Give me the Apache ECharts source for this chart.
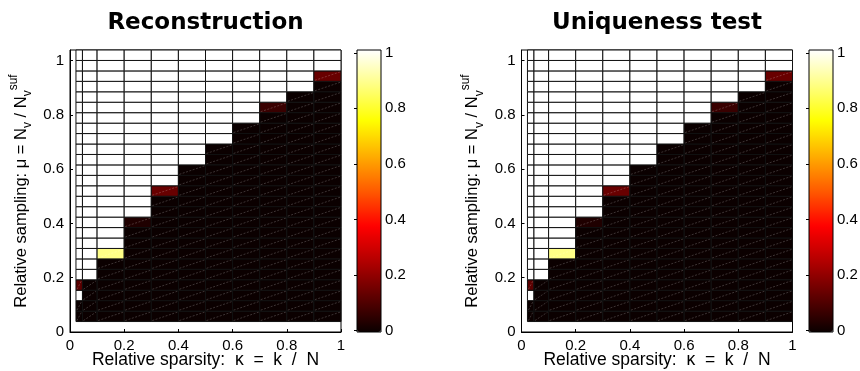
<!DOCTYPE html>
<html><head><meta charset="utf-8">
<script src="https://cdn.jsdelivr.net/npm/echarts@6/dist/echarts.min.js"></script>
<style>html,body{margin:0;padding:0;background:#fff}#c{width:860px;height:371px}</style>
</head><body><div id="c"></div>
<script>
// ---- data ----
const panelTitles = ['Reconstruction', 'Uniqueness test'];
const xAxisTitle = 'Relative sparsity:  κ  =  k  /  N';
const xTicks = [0, 0.2, 0.4, 0.6, 0.8, 1];
const yTicks = [0, 0.2, 0.4, 0.6, 0.8, 1];
const cbTicks = [0, 0.2, 0.4, 0.6, 0.8, 1];
// cell edges (relative sparsity)
const kappaEdges = [0.022, 0.046, 0.1, 0.2, 0.3, 0.4, 0.5, 0.6, 0.7, 0.8, 0.9, 1.0];
// cell edges (relative sampling)
const muEdges = [0.0385, 0.0769, 0.1154, 0.1538, 0.1923, 0.2308, 0.2692, 0.3077, 0.3462,
  0.3846, 0.4231, 0.4615, 0.5, 0.5385, 0.5769, 0.6154, 0.6538, 0.6923, 0.7308, 0.7692,
  0.8077, 0.8462, 0.8846, 0.9231, 0.9615, 1.0, 1.0385];
// rows listed from bottom (first) to top (last), 11 columns each
const reconstruction = [
  [0,0,0,0,0,0,0,0,0,0,0],
  [0,0,0,0,0,0,0,0,0,0,0],
  [1,0,0,0,0,0,0,0,0,0,0],
  [0.12,0,0,0,0,0,0,0,0,0,0],
  [1,1,0,0,0,0,0,0,0,0,0],
  [1,1,0,0,0,0,0,0,0,0,0],
  [1,1,0.88,0,0,0,0,0,0,0,0],
  [1,1,1,0,0,0,0,0,0,0,0],
  [1,1,1,0,0,0,0,0,0,0,0],
  [1,1,1,0.03,0,0,0,0,0,0,0],
  [1,1,1,1,0,0,0,0,0,0,0],
  [1,1,1,1,0,0,0,0,0,0,0],
  [1,1,1,1,0.14,0,0,0,0,0,0],
  [1,1,1,1,1,0,0,0,0,0,0],
  [1,1,1,1,1,0,0,0,0,0,0],
  [1,1,1,1,1,1,0,0,0,0,0],
  [1,1,1,1,1,1,0,0,0,0,0],
  [1,1,1,1,1,1,1,0,0,0,0],
  [1,1,1,1,1,1,1,0,0,0,0],
  [1,1,1,1,1,1,1,1,0,0,0],
  [1,1,1,1,1,1,1,1,0.07,0,0],
  [1,1,1,1,1,1,1,1,1,0,0],
  [1,1,1,1,1,1,1,1,1,1,0],
  [1,1,1,1,1,1,1,1,1,1,0.14],
  [1,1,1,1,1,1,1,1,1,1,1],
  [1,1,1,1,1,1,1,1,1,1,1]
];
const uniqueness = [
  [0,0,0,0,0,0,0,0,0,0,0],
  [0,0,0,0,0,0,0,0,0,0,0],
  [1,0,0,0,0,0,0,0,0,0,0],
  [0.12,0,0,0,0,0,0,0,0,0,0],
  [1,1,0,0,0,0,0,0,0,0,0],
  [1,1,0,0,0,0,0,0,0,0,0],
  [1,1,0.88,0,0,0,0,0,0,0,0],
  [1,1,1,0,0,0,0,0,0,0,0],
  [1,1,1,0,0,0,0,0,0,0,0],
  [1,1,1,0.03,0,0,0,0,0,0,0],
  [1,1,1,1,0,0,0,0,0,0,0],
  [1,1,1,1,0,0,0,0,0,0,0],
  [1,1,1,1,0.14,0,0,0,0,0,0],
  [1,1,1,1,1,0,0,0,0,0,0],
  [1,1,1,1,1,0,0,0,0,0,0],
  [1,1,1,1,1,1,0,0,0,0,0],
  [1,1,1,1,1,1,0,0,0,0,0],
  [1,1,1,1,1,1,1,0,0,0,0],
  [1,1,1,1,1,1,1,0,0,0,0],
  [1,1,1,1,1,1,1,1,0,0,0],
  [1,1,1,1,1,1,1,1,0.07,0,0],
  [1,1,1,1,1,1,1,1,1,0,0],
  [1,1,1,1,1,1,1,1,1,1,0],
  [1,1,1,1,1,1,1,1,1,1,0.14],
  [1,1,1,1,1,1,1,1,1,1,1],
  [1,1,1,1,1,1,1,1,1,1,1]
];
// MATLAB 'hot' colormap sampled at 0, 1/8, ..., 1
const hotColors = ['#0b0000','#5e0000','#b20000','#ff0000','#ff5a00','#ffae00','#ffff00','#ffff82','#ffffff'];

// ---- build ----
function cells(matrix) {
  const out = [];
  for (let r = 0; r < matrix.length; r++)
    for (let c = 0; c < matrix[r].length; c++)
      out.push([kappaEdges[c], kappaEdges[c + 1], muEdges[r], muEdges[r + 1], matrix[r][c]]);
  return out;
}
const FONT = 'Liberation Sans';
const gridsX = [70, 521.5];
const cbX = [357, 809];
const TOP = 50, H = 282, W = 271, CBW = 24;

function renderCell(params, api) {
  const p0 = api.coord([api.value(0), api.value(2)]);
  const p1 = api.coord([api.value(1), api.value(3)]);
  return {
    type: 'group',
    children: [
      { type: 'rect',
        shape: { x: p0[0], y: p1[1], width: p1[0] - p0[0], height: p0[1] - p1[1] },
        style: { fill: api.visual('color'), stroke: '#111', lineWidth: 1 } },
      { type: 'line',
        shape: { x1: p0[0] + 1, y1: p0[1] - 1, x2: p1[0] - 1, y2: p1[1] + 1 },
        style: { stroke: 'rgba(255,255,255,0.25)', lineWidth: 0.8, lineDash: [2, 1.5] } }
    ]
  };
}
const yTitle = '{a|Relative sampling: μ = N}{sub|v}{a| / N}{sub|v}{sup|suf}';
const richY = {
  a: { fontSize: 16.5, fontFamily: FONT, color: '#000', lineHeight: 26, verticalAlign: 'middle' },
  sub: { fontSize: 12, fontFamily: FONT, color: '#000', lineHeight: 14, verticalAlign: 'bottom' },
  sup: { fontSize: 12, fontFamily: FONT, color: '#000', lineHeight: 14, verticalAlign: 'top' }
};
const near = (v, arr) => arr.some(t => Math.abs(t - v) < 1e-6);
const gridBase = { top: TOP, height: H, show: true, borderColor: '#000', borderWidth: 1,
  backgroundColor: 'transparent', outerBoundsMode: 'none', containLabel: false };

const option = {
  animation: false,
  backgroundColor: '#fff',
  title: panelTitles.map((t, i) => ({
    text: t, left: gridsX[i] + W / 2, top: 12, textAlign: 'center', padding: 0,
    textStyle: { fontFamily: 'DejaVu Sans', fontWeight: 'bold', fontSize: 23, color: '#000' }
  })),
  grid: [
    Object.assign({}, gridBase, { left: gridsX[0], width: W }),
    Object.assign({}, gridBase, { left: gridsX[1], width: W }),
    Object.assign({}, gridBase, { left: cbX[0], width: CBW, z: 10 }),
    Object.assign({}, gridBase, { left: cbX[1], width: CBW, z: 10 })
  ],
  xAxis: [0, 1].map(i => ({
    gridIndex: i, type: 'value', min: 0, max: 1, interval: 0.2,
    axisLine: { show: true, lineStyle: { color: '#000', width: 1 } },
    axisTick: { show: true, inside: true, length: 3, lineStyle: { color: '#000' } },
    axisLabel: { color: '#000', fontSize: 15, fontFamily: FONT, margin: 6,
      formatter: v => near(v, xTicks) ? String(+v.toFixed(1)) : '' },
    splitLine: { show: false },
    name: xAxisTitle, nameLocation: 'middle', nameGap: 19, nameMoveOverlap: false,
    nameTextStyle: { color: '#000', fontSize: 17.5, fontFamily: FONT }
  })).concat([2, 3].map(i => ({ gridIndex: i, type: 'value', show: false, min: 0, max: 1 }))),
  yAxis: [0, 1].map(i => ({
    gridIndex: i, type: 'value', min: 0, max: muEdges[muEdges.length - 1], interval: 0.2,
    axisLine: { show: true, lineStyle: { color: '#000', width: 1 } },
    axisTick: { show: true, inside: true, length: 3, lineStyle: { color: '#000' } },
    axisLabel: { color: '#000', fontSize: 15, fontFamily: FONT, margin: 6, showMaxLabel: false,
      formatter: v => near(v, yTicks) ? String(+v.toFixed(1)) : '' },
    splitLine: { show: false },
    name: yTitle, nameLocation: 'middle', nameGap: 36, nameRotate: 90,
    nameTextStyle: { rich: richY }
  })).concat([2, 3].map(i => ({
    gridIndex: i, type: 'value', position: 'right', min: -0.005, max: 1.01, z: 10,
    axisLine: { show: false },
    axisTick: { show: true, inside: true, length: 3, lineStyle: { color: '#000' }, customValues: cbTicks },
    axisLabel: { color: '#000', fontSize: 15, fontFamily: FONT, margin: 4, customValues: cbTicks,
      formatter: v => String(+(+v).toFixed(1)) },
    splitLine: { show: false }
  }))),
  visualMap: [0, 1].map(i => ({
    type: 'continuous', min: 0, max: 1, dimension: 4, seriesIndex: i,
    calculable: false, realtime: false, orient: 'vertical',
    left: cbX[i], top: TOP, itemWidth: CBW, itemHeight: H, padding: 0,
    text: null, showLabel: false,
    inRange: { color: hotColors }
  })),
  series: [reconstruction, uniqueness].map((m, i) => ({
    type: 'custom', xAxisIndex: i, yAxisIndex: i,
    encode: { x: [0, 1], y: [2, 3] },
    renderItem: renderCell, data: cells(m), z: 2
  }))
};
const chart = echarts.init(document.getElementById('c'), null, { renderer: 'canvas' });
chart.setOption(option);
</script></body></html>
